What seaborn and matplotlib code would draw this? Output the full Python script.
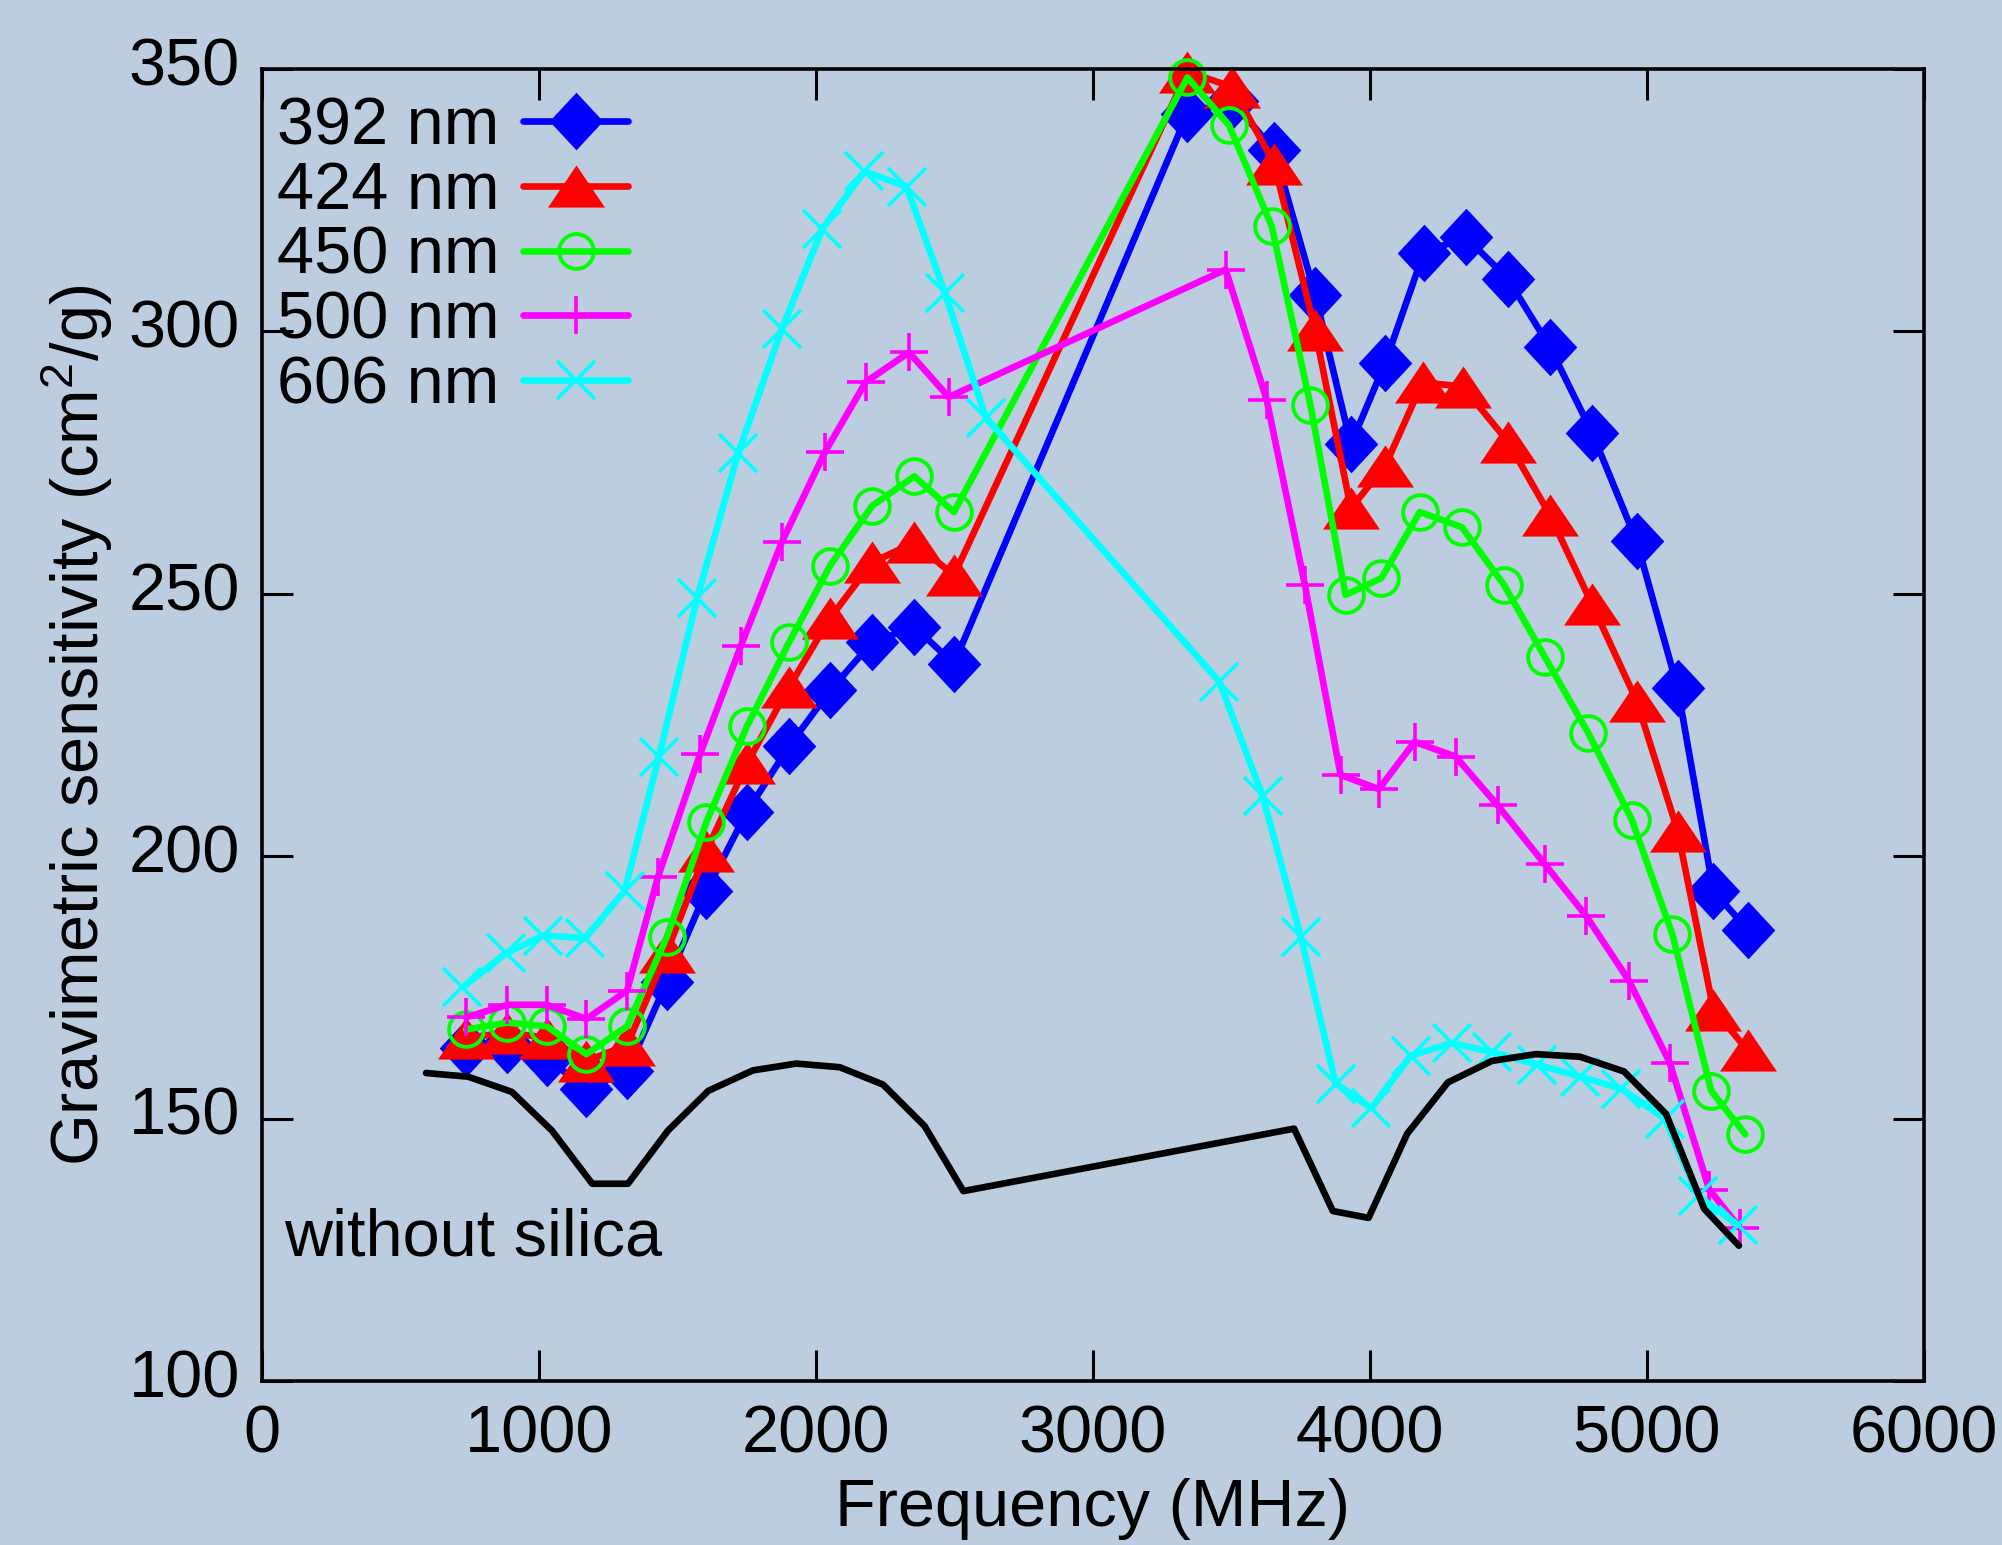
import matplotlib
matplotlib.use("Agg")
import matplotlib.pyplot as plt
import matplotlib.transforms as mtransforms
import seaborn as sns
import numpy as np

# ---------------- data ----------------
freq_392 = [737, 885, 1028, 1171, 1318, 1461, 1604, 1751, 1903, 2051, 2203, 2355, 2498,
            3341, 3502, 3654, 3802, 3931, 4055, 4194, 4346, 4498, 4650, 4802, 4963, 5111, 5240, 5364]
sens_392 = [163.5, 164, 161.5, 155.7, 159, 176, 193.4, 208.5, 221, 231.6, 240.8, 243.7, 236.7,
            341.5, 344, 334.5, 307, 278.5, 294, 315, 318, 310, 297, 280.7, 260, 232, 193.4, 186]

freq_424 = [737, 885, 1028, 1171, 1318, 1461, 1604, 1751, 1903, 2051, 2203, 2355, 2498,
            3341, 3502, 3654, 3802, 3931, 4055, 4190, 4335, 4498, 4650, 4802, 4963, 5111, 5240, 5364]
sens_424 = [165.4, 166.4, 165.4, 161, 164, 181.7, 201, 217.7, 232.3, 245.4, 256, 259.8, 253.5,
            349.5, 346.6, 332, 300.2, 266.3, 274.4, 290.3, 289.5, 279, 265, 248, 229.6, 204.8, 170.8, 163]

freq_450 = [737, 885, 1028, 1171, 1318, 1461, 1604, 1751, 1903, 2051, 2203, 2355, 2498,
            3341, 3491, 3645, 3785, 3912, 4041, 4180, 4332, 4484, 4631, 4788, 4945, 5092, 5232, 5355]
sens_450 = [167, 168.3, 167.6, 162.3, 167.6, 184.6, 206.5, 224.8, 240.8, 255.4, 266.8, 272.4, 265.6,
            348.4, 339.3, 320.1, 286, 249.8, 253, 265.6, 262.7, 251.7, 238, 223.5, 207, 185.1, 155.3, 147]

freq_500 = [737, 885, 1028, 1171, 1318, 1429, 1581, 1728, 1876, 2032, 2180, 2336, 2479,
            3479, 3627, 3765, 3894, 4032, 4161, 4309, 4461, 4631, 4781, 4935, 5082, 5225, 5335]
sens_500 = [169.3, 171.7, 171.7, 169, 174.4, 196, 219.4, 240, 259.8, 277, 290.4, 296, 287.5,
            311.8, 287, 251.7, 215.5, 212.8, 221.8, 219, 209.7, 198.5, 188.6, 176.3, 160.7, 136.5, 129.2]

freq_606 = [723, 880, 1014, 1166, 1309, 1433, 1571, 1719, 1876, 2023, 2175, 2327, 2465, 2613,
            3456, 3613, 3751, 3876, 4005, 4147, 4295, 4442, 4604, 4760, 4908, 5065, 5184, 5327]
sens_606 = [175, 181.5, 184.9, 184.4, 193.4, 219, 249.3, 276.8, 300.4, 319.6, 330.5, 327.6, 307.4, 283.6,
            233.3, 211.4, 184.6, 156.7, 152, 162, 164.4, 162.7, 160.3, 158, 155.7, 150, 135.3, 129.8]

freq_bare = [592, 744, 902, 1047, 1192, 1321, 1465, 1611, 1772, 1929, 2086, 2242, 2392, 2532,
             3726, 3866, 3995, 4134, 4281, 4440, 4599, 4758, 4917, 5069, 5207, 5332]
sens_bare = [158.7, 158.0, 155.1, 147.7, 137.6, 137.6, 147.7, 155.3, 159.2, 160.5, 159.8, 156.5, 148.6, 136.2,
             148.1, 132.4, 131.1, 147.1, 156.9, 161.0, 162.3, 161.8, 159.0, 150.9, 132.8, 125.8]

labels = ["392 nm", "424 nm", "450 nm", "500 nm", "606 nm"]
x_ticks = [0, 1000, 2000, 3000, 4000, 5000, 6000]
y_ticks = [100, 150, 200, 250, 300, 350]

# ---------------- style ----------------
BG = "#bdcde0"
sns.set_style("ticks")
plt.rcParams["font.family"] = ["Liberation Sans", "DejaVu Sans"]
plt.rcParams["mathtext.fontset"] = "custom"
plt.rcParams["mathtext.rm"] = "Liberation Sans"
plt.rcParams["mathtext.default"] = "regular"
for k in ["text.color", "axes.labelcolor", "xtick.color", "ytick.color",
          "xtick.labelcolor", "ytick.labelcolor", "axes.edgecolor"]:
    plt.rcParams[k] = "black"
FS = 48

fig = plt.figure(figsize=(20.02, 15.45), dpi=100, facecolor=BG)
ax = fig.add_axes([0.1309, 0.1061, 0.9610 - 0.1309, 0.9553 - 0.1061])
ax.set_facecolor(BG)

tri = [(0, 0.74), (-1, -0.74), (1, -0.74)]
dia = [(0, 1), (0.93, 0), (0, -1), (-0.93, 0)]

LW = 4.8
series = [
    (freq_392, sens_392, "#0000ff", dict(marker=dia, ms=41.5, mfc="#0000ff", mec="#0000ff", mew=0)),
    (freq_424, sens_424, "#ff0000", dict(marker=tri, ms=41, mfc="#ff0000", mec="#ff0000", mew=0)),
    (freq_450, sens_450, "#00ff00", dict(marker="o", ms=25, mfc="none", mec="#00ff00", mew=2.8)),
    (freq_500, sens_500, "#ff00ff", dict(marker="+", ms=27, mec="#ff00ff", mew=2.6)),
    (freq_606, sens_606, "#00ffff", dict(marker="x", ms=27, mec="#00ffff", mew=2.6)),
]
for (fx, fy, col, mk), lab in zip(series, labels):
    sns.lineplot(x=fx, y=fy, ax=ax, color=col, lw=LW, errorbar=None,
                 label=lab, clip_on=False, **mk)

sns.lineplot(x=freq_bare, y=sens_bare, ax=ax, color="black", lw=LW, errorbar=None)

ax.text(78, 124, "without silica", fontsize=FS, va="baseline", ha="left", color="black")

ax.set_xlim(0, 6000)
ax.set_ylim(100, 350)
ax.set_xticks(x_ticks)
ax.set_yticks(y_ticks)
ax.tick_params(axis="both", which="major", direction="in", length=22, width=2.2,
               top=True, right=True, labelsize=FS, colors="black")
ax.tick_params(axis="x", pad=17)
ax.tick_params(axis="y", pad=16)
for s in ax.spines.values():
    s.set_linewidth(2.6)
    s.set_color("black")
    s.set_visible(True)

# y tick labels sit slightly above their ticks in the reference
shift = mtransforms.ScaledTranslation(0, 0.077, fig.dpi_scale_trans)
for lbl in ax.get_yticklabels():
    lbl.set_transform(lbl.get_transform() + shift)

ax.set_xlabel("Frequency (MHz)", fontsize=FS, labelpad=8, color="black")
ax.set_ylabel("Gravimetric sensitivity (cm$^2$/g)", fontsize=FS, labelpad=10, color="black")

leg = ax.legend(loc="upper left", bbox_to_anchor=(0.009, 0.979), frameon=False,
                markerfirst=False, handlelength=1.58, handletextpad=0.35,
                labelspacing=0.04, borderpad=0, borderaxespad=0, fontsize=FS)
for t in leg.get_texts():
    t.set_color("black")

fig.savefig("out.png", dpi=100, facecolor=BG)
